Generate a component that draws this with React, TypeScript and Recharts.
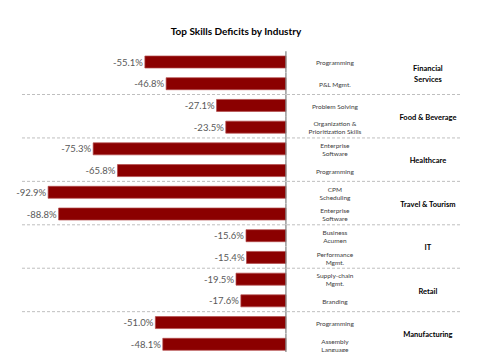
import React from "react"
import { BarChart, Bar, XAxis, YAxis, LabelList } from "recharts"

// Industry groups (two skills each, top to bottom)
const industries = [
  "Financial\nServices",
  "Food & Beverage",
  "Healthcare",
  "Travel & Tourism",
  "IT",
  "Retail",
  "Manufacturing",
]

const skills = [
  "Programming",
  "P&L Mgmt.",
  "Problem Solving",
  "Organization &\nPrioritization  Skills",
  "Enterprise\nSoftware",
  "Programming",
  "CPM\nScheduling",
  "Enterprise\nSoftware",
  "Business\nAcumen",
  "Performance\nMgmt.",
  "Supply-chain\nMgmt.",
  "Branding",
  "Programming",
  "Assembly\nLanguage",
]

const deficits = [-55.1, -46.8, -27.1, -23.5, -75.3, -65.8, -92.9, -88.8, -15.6, -15.4, -19.5, -17.6, -51.0, -48.1]

const data = skills.map((skill, i) => ({
  skill,
  industry: i % 2 === 0 ? industries[i / 2] : "",
  value: deficits[i],
}))

const FONT = "Lato, 'Open Sans', sans-serif"
const BAND = 21.6

const ValueLabel = (props: any) => {
  const { x, y, width, height, value } = props
  const left = Math.min(x, x + width)
  return (
    <text x={left - 2} y={y + height / 2} dy={3.5} textAnchor="end" fontSize={9.5} fill="#595959" fontFamily={FONT}>
      {`${Number(value).toFixed(1)}%`}
    </text>
  )
}

const MultiLine = ({ x, y, text, size, bold, gap }: any) => {
  const lines = String(text).split("\n")
  const start = y - ((lines.length - 1) * gap) / 2
  return (
    <text x={x} textAnchor="middle" fontSize={size} fontWeight={bold ? "bold" : "normal"} fill={bold ? "#000" : "#404040"} fontFamily={FONT}>
      {lines.map((l, k) => (
        <tspan key={k} x={x} y={start + k * gap} dy={size * 0.35}>
          {l}
        </tspan>
      ))}
    </text>
  )
}

// category + group labels, group separators and the zero axis, all placed from the bar geometry
const SkillLabel = (props: any) => {
  const { x, y, width, height, index } = props
  const zero = Math.max(x, x + width)
  const cy = y + height / 2
  const row = data[index]
  const isGroupEnd = index % 2 === 1 && index < data.length - 1
  return (
    <g>
      <line x1={zero} x2={zero} y1={cy - BAND / 2} y2={cy + BAND / 2} stroke="#7f7f7f" strokeWidth={1.2} />
      <MultiLine x={zero + 49} y={cy + 1} text={row.skill} size={6.5} gap={8} />
      {row.industry && <MultiLine x={zero + 142} y={cy + BAND / 2 + 1} text={row.industry} size={7.5} gap={11} bold />}
      {isGroupEnd && (
        <line x1={22} x2={460} y1={cy + BAND / 2} y2={cy + BAND / 2} stroke="#bfbfbf" strokeDasharray="3 2" strokeWidth={1} />
      )}
    </g>
  )
}

export default function App() {
  return (
    <div style={{ width: 480, height: 360, position: "relative", margin: -8, background: "#fff" }}>
      <div
        style={{
          position: "absolute",
          top: 25,
          left: 0,
          width: 472,
          textAlign: "center",
          fontFamily: FONT,
          fontWeight: "bold",
          fontSize: 10,
          color: "#000",
        }}
      >
        Top Skills Deficits by Industry
      </div>
      <BarChart
        width={480}
        height={360}
        data={data}
        layout="vertical"
        margin={{ top: 51, right: 20, bottom: 5, left: 22 }}
        barSize={12}
      >
        <XAxis type="number" domain={[-103.1, 68]} hide />
        <YAxis type="category" dataKey="skill" hide />
        <Bar dataKey="value" fill="#8B0000" stroke="#b34a4a" strokeWidth={0.7} isAnimationActive={false}>
          <LabelList dataKey="value" content={ValueLabel} />
          <LabelList dataKey="skill" content={SkillLabel} />
        </Bar>
      </BarChart>
    </div>
  )
}
